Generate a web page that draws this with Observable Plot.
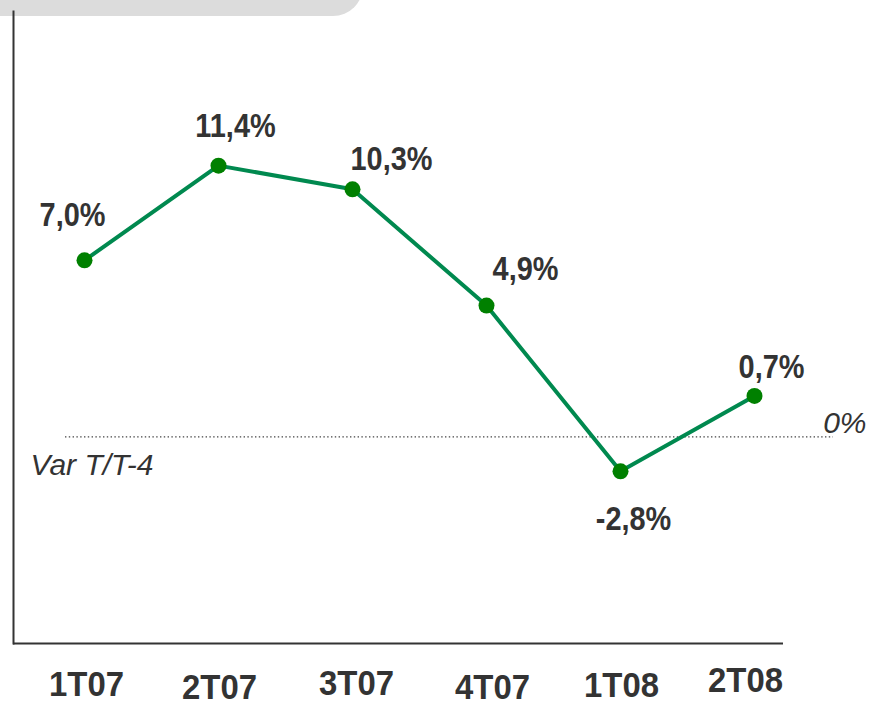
<!DOCTYPE html>
<html>
<head>
<meta charset="utf-8">
<script src="https://cdn.jsdelivr.net/npm/d3@7"></script>
<script src="https://cdn.jsdelivr.net/npm/@observablehq/plot@0.6"></script>
<style>
  html, body { margin: 0; padding: 0; background: #fff; }
  #wrap { position: relative; width: 870px; height: 701px; overflow: hidden; }
  #tab { position: absolute; left: 0; top: -14px; width: 363px; height: 30px; background: #dcdcdc; border-radius: 0 0 30px 0; }
  #chart { position: absolute; left: 0; top: 0; }
</style>
</head>
<body>
<div id="wrap"><div id="tab"></div><div id="chart"></div></div>
<script>
// ---- data ----
const quarters = ["1T07", "2T07", "3T07", "4T07", "1T08", "2T08"];
const values = [7.0, 11.4, 10.3, 4.9, -2.8, 0.7];
const valueLabels = ["7,0%", "11,4%", "10,3%", "4,9%", "-2,8%", "0,7%"];
const refLineValue = -1.2;          // where the "0%" reference line sits in the picture
const refLineLabel = "0%";
const seriesLabel = "Var T/T-4";

// ---- layout (styling only) ----
const labelOffsets = [[-12, -45], [17, -40], [39, -30], [39, -36], [13, 48], [17, -29]];
const tickOffsets = [[2, 41.5], [1, 44], [4, 40.5], [6, 44], [1, 42], [-9, 37.5]];
const yMin = -10.8, yMax = 18.56;

const rows = quarters.map((q, i) => ({ q, v: values[i], label: valueLabels[i] }));

const font = "'Liberation Sans', Arial, Helvetica, sans-serif";

const marks = [
  Plot.ruleY([refLineValue], { stroke: "#444", strokeWidth: 1.4, strokeDasharray: "1.4,2.4", insetLeft: 52, insetRight: -50 }),
  Plot.text([refLineLabel], { frameAnchor: "right", y: () => refLineValue, text: d => d, dx: 83, dy: -13, textAnchor: "end", fontSize: 30, fontStyle: "italic", fill: "#333", fontFamily: font }),
  Plot.text([seriesLabel], { frameAnchor: "left", y: () => refLineValue, text: d => d, dx: 17, dy: 29, textAnchor: "start", fontSize: 30, fontStyle: "italic", fill: "#333", fontFamily: font }),
  Plot.ruleY([yMin], { stroke: "#333", strokeWidth: 2 }),
  Plot.frame({ anchor: "left", stroke: "#333", strokeWidth: 2 }),
  Plot.line(rows, { x: "q", y: "v", stroke: "#00894f", strokeWidth: 4 }),
  Plot.dot(rows, { x: "q", y: "v", r: 8, fill: "#008000", stroke: "none" })
];
rows.forEach((d, i) => {
  marks.push(Plot.text([d], { x: "q", y: "v", text: "label", dx: labelOffsets[i][0], dy: labelOffsets[i][1], fontSize: 34, fontWeight: "bold", fill: "#333", fontFamily: font }));
  marks.push(Plot.text([d], { x: "q", y: () => yMin, text: "q", dx: tickOffsets[i][0], dy: tickOffsets[i][1], fontSize: 35, fontWeight: "bold", fill: "#333", fontFamily: font }));
});

const chart = Plot.plot({
  width: 870,
  height: 701,
  marginLeft: 13,
  marginRight: 87,
  marginTop: 11,
  marginBottom: 58,
  style: { background: "transparent", overflow: "visible" },
  x: { type: "point", domain: quarters, range: [84, 754], padding: 0, axis: null },
  y: { domain: [yMin, yMax], axis: null },
  marks
});

// horizontally condense the bold labels (Arial Narrow-like look)
chart.querySelectorAll('g[font-weight="bold"]').forEach(g => {
  const s = g.getAttribute("font-size") === "34" ? 0.85 : 0.94;
  g.querySelectorAll("text").forEach(t => {
    let tr = t.getAttribute("transform");
    if (!tr) {
      const x = t.getAttribute("x") || 0, y = t.getAttribute("y") || 0;
      t.removeAttribute("x"); t.removeAttribute("y");
      tr = `translate(${x},${y})`;
    }
    t.setAttribute("transform", `${tr} scale(${s},1)`);
  });
});
document.getElementById("chart").appendChild(chart);
</script>
</body>
</html>
